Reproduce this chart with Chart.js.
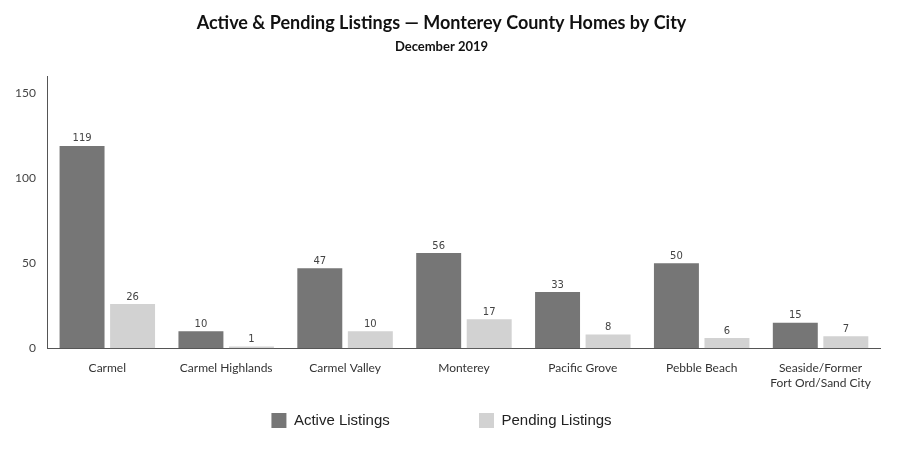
<!DOCTYPE html>
<html>
<head>
<meta charset="utf-8">
<script src="https://cdn.jsdelivr.net/npm/chart.js@4.4.0/dist/chart.umd.min.js"></script>
<style>
  body { margin: 0; background: #fff; }
  #wrap { width: 900px; height: 450px; }
</style>
</head>
<body>
<div id="wrap"><canvas id="myChart" width="900" height="450"></canvas></div>
<script>
// values
const cities = ["Carmel", "Carmel Highlands", "Carmel Valley", "Monterey", "Pacific Grove", "Pebble Beach", ["Seaside/Former", "Fort Ord/Sand City"]];
const active = [119, 10, 47, 56, 33, 50, 15];
const pending = [26, 1, 10, 17, 8, 6, 7];
const yTicks = [0, 50, 100, 150];

const barLabels = {
	id: "barLabels",
	afterDatasetsDraw(chart) {
		const ctx = chart.ctx;
		ctx.save();
		ctx.font = "10px 'DejaVu Sans'";
		ctx.fillStyle = "#444";
		ctx.textAlign = "center";
		ctx.textBaseline = "bottom";
		chart.data.datasets.forEach((ds, i) => {
			chart.getDatasetMeta(i).data.forEach((bar, j) => {
				ctx.fillText(ds.data[j], bar.x, bar.y - 2);
			});
		});
		ctx.restore();
	},
};

const ctx = document.getElementById("myChart").getContext("2d");
const myChart = new Chart(ctx, {
	type: "bar",
	data: {
		labels: cities,
		datasets: [
			{
				label: "Active Listings",
				data: active,
				backgroundColor: "#767676",
				categoryPercentage: 0.85,
				barPercentage: 0.89,
			},
			{
				label: "Pending Listings",
				data: pending,
				backgroundColor: "#d2d2d2",
				categoryPercentage: 0.85,
				barPercentage: 0.89,
			},
		],
	},
	options: {
		responsive: false,
		animation: false,
		layout: { padding: { left: 3, right: 20, top: 0, bottom: 12 } },
		plugins: {
			title: {
				display: true,
				text: "Active & Pending Listings — Monterey County Homes by City",
				color: "#111",
				font: { family: "Lato", size: 18, weight: "bold" },
				padding: { top: 12, bottom: 4 },
			},
			subtitle: {
				display: true,
				text: "December 2019",
				color: "#111",
				font: { family: "Lato", size: 13, weight: "bold" },
				padding: { top: 1, bottom: 22 },
			},
			legend: {
				position: "bottom",
				labels: {
					boxWidth: 15,
					boxHeight: 15,
					padding: 10,
					color: "#222",
					font: { family: "Liberation Sans", size: 15 },
					// widen the gap between the two items
					generateLabels: (chart) => {
						const items = Chart.defaults.plugins.legend.labels.generateLabels(chart);
						items[0].text += " ".repeat(19);
						return items;
					},
				},
			},
			tooltip: { enabled: false },
		},
		scales: {
			x: {
				grid: { display: false, drawTicks: false },
				border: { display: true, color: "#555" },
				ticks: { color: "#333", font: { family: "Lato", size: 12 }, maxRotation: 0, padding: 13 },
			},
			y: {
				min: 0,
				max: 160,
				afterBuildTicks: (axis) => { axis.ticks = yTicks.map((v) => ({ value: v })); },
				grid: { display: false, drawTicks: false },
				border: { display: true, color: "#555" },
				ticks: { color: "#444", font: { family: "Lato", size: 12 }, padding: 12 },
			},
		},
	},
	plugins: [barLabels],
});
</script>
</body>
</html>
